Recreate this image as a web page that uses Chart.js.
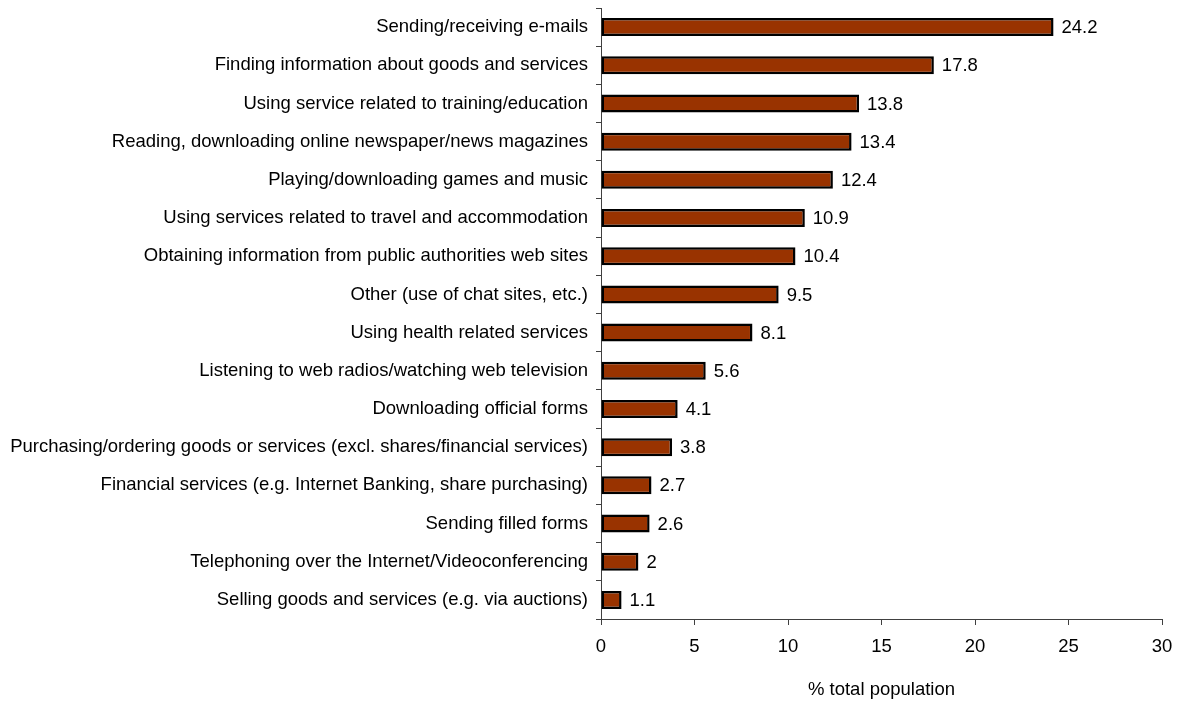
<!DOCTYPE html>
<html>
<head>
<meta charset="utf-8">
<script src="https://cdn.jsdelivr.net/npm/chart.js@4/dist/chart.umd.min.js"></script>
<style>
  html, body { margin: 0; padding: 0; background: #fff; }
  #wrap { width: 1178px; height: 701px; }
</style>
</head>
<body>
<div id="wrap"><canvas id="usesChart" width="1178" height="701"></canvas></div>
<script>
/* Internet uses, % of total population */
const categories = [
  'Sending/receiving e-mails',
  'Finding information about goods and services',
  'Using service related to training/education',
  'Reading, downloading online newspaper/news magazines',
  'Playing/downloading games and music',
  'Using services related to travel and accommodation',
  'Obtaining information from public authorities web sites',
  'Other (use of chat sites, etc.)',
  'Using health related services',
  'Listening to web radios/watching web television',
  'Downloading official forms',
  'Purchasing/ordering goods or services (excl. shares/financial services)',
  'Financial services (e.g. Internet Banking, share purchasing)',
  'Sending filled forms',
  'Telephoning over the Internet/Videoconferencing',
  'Selling goods and services (e.g. via auctions)'
];
const shares = [24.2, 17.8, 13.8, 13.4, 12.4, 10.9, 10.4, 9.5, 8.1, 5.6, 4.1, 3.8, 2.7, 2.6, 2, 1.1];
const xTicks = [0, 5, 10, 15, 20, 25, 30];

const FONT = 'Liberation Sans, Arial, sans-serif';
const FSIZE = 18.5;

// value labels right of each bar
const valueLabels = {
  id: 'valueLabels',
  afterDatasetsDraw(chart) {
    const c = chart.ctx;
    const meta = chart.getDatasetMeta(0);
    c.save();
    c.font = FSIZE + 'px ' + FONT;
    c.fillStyle = '#000';
    c.textBaseline = 'middle';
    c.textAlign = 'left';
    meta.data.forEach((bar, i) => {
      c.fillText(String(shares[i]), bar.x + 8, bar.y + 1);
    });
    c.restore();
  }
};

// drop the extra room chart.js keeps for half-labels at the axis ends
const noEdgePad = s => { s.paddingTop = 0; s.paddingBottom = 0; s.paddingLeft = 0; s.paddingRight = 0; };

new Chart(document.getElementById('usesChart'), {
  type: 'bar',
  data: {
    labels: categories,
    datasets: [{
      data: shares,
      backgroundColor: '#993300',
      borderColor: '#000',
      borderWidth: 2.5,
      borderSkipped: false,
      barPercentage: 0.47,
      categoryPercentage: 1
    }]
  },
  options: {
    indexAxis: 'y',
    responsive: false,
    animation: false,
    layout: { padding: { top: 8, right: 16, bottom: 0, left: 0 } },
    plugins: {
      legend: { display: false },
      tooltip: { enabled: false }
    },
    scales: {
      x: {
        min: 0,
        max: 30,
        afterBuildTicks: s => { s.ticks = xTicks.map(v => ({ value: v })); },
        afterFit: s => { s.height = 82; noEdgePad(s); },
        grid: { drawOnChartArea: false, tickLength: 6, color: '#404040' },
        border: { color: '#404040', width: 1 },
        ticks: { color: '#000', font: { size: FSIZE, family: FONT }, padding: 11, maxRotation: 0 },
        title: {
          display: true,
          text: '% total population',
          color: '#000',
          font: { size: FSIZE, family: FONT },
          padding: { top: 0, bottom: 0 }
        }
      },
      y: {
        offset: true,
        afterFit: s => { s.width = 601; noEdgePad(s); },
        grid: { drawOnChartArea: false, offset: true, tickLength: 5, color: '#404040' },
        border: { color: '#404040', width: 1 },
        ticks: { color: '#000', font: { size: FSIZE, family: FONT }, padding: 8, autoSkip: false }
      }
    }
  },
  plugins: [valueLabels]
});
</script>
</body>
</html>
